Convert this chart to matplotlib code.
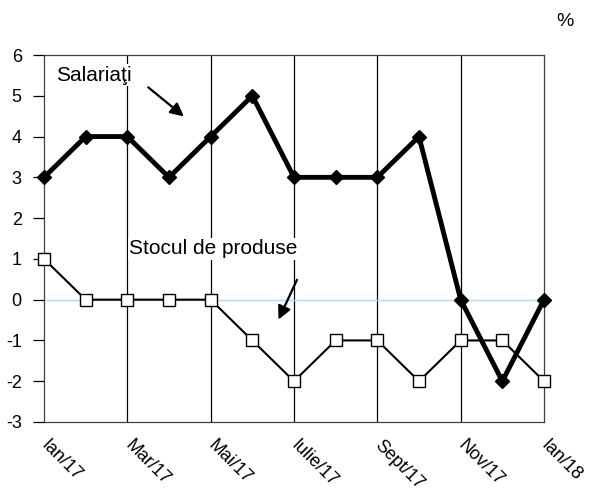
import matplotlib
matplotlib.use("Agg")
import matplotlib.pyplot as plt
import matplotlib.transforms as mtransforms
import numpy as np

months = ["Ian/17", "Feb/17", "Mar/17", "Apr/17", "Mai/17", "Iun/17", "Iulie/17",
          "Aug/17", "Sept/17", "Oct/17", "Nov/17", "Dec/17", "Ian/18"]
salariati = [3, 4, 4, 3, 4, 5, 3, 3, 3, 4, 0, -2, 0]
stocul = [1, 0, 0, 0, 0, -1, -2, -1, -1, -2, -1, -1, -2]

plt.rcParams["font.family"] = ["Liberation Sans", "DejaVu Sans"]
plt.rcParams["axes.unicode_minus"] = False

fig = plt.figure(figsize=(5.9, 4.92), dpi=100)
ax = fig.add_axes([44 / 590, 70 / 492, 500 / 590, 367 / 492])

x = np.arange(len(months))

for xv in x[2:-1:2]:
    ax.axvline(xv, color="black", lw=0.9, zorder=1)
ax.axhline(0, color="#b4d8f4", lw=1.0, zorder=1)

ax.plot(x, salariati, color="black", lw=3.5, marker="D", markersize=7,
        markerfacecolor="black", zorder=3, clip_on=False)
ax.plot(x, stocul, color="black", lw=1.5, marker="s", markersize=9,
        markerfacecolor="white", markeredgecolor="black", markeredgewidth=1.0,
        zorder=3, clip_on=False)

ax.set_xlim(0, 12)
ax.set_ylim(-3, 6)
ax.set_yticks(range(-3, 7))
ax.set_xticks(x[::2])
ax.set_xticklabels(months[::2], rotation=-45, ha="left", va="top",
                   rotation_mode="anchor")
ax.tick_params(axis="y", length=8, width=0.9, labelsize=13, pad=8)
ax.tick_params(axis="x", length=0, labelsize=13, pad=10)
shift = mtransforms.ScaledTranslation(6 / 100, -1 / 100, fig.dpi_scale_trans)
for lab in ax.get_xticklabels():
    lab.set_transform(lab.get_transform() + shift)
for s in ax.spines.values():
    s.set_linewidth(0.9)
    s.set_color("#404040")

ax.text(0.3, 5.5, "Salariaţi", fontsize=15, va="center", ha="left",
        bbox=dict(facecolor="white", edgecolor="none", pad=1), zorder=4)
ax.annotate("", xy=(3.41, 4.45), xytext=(2.45, 5.25),
            arrowprops=dict(arrowstyle="-|>", color="black", lw=1.6,
                            mutation_scale=20), zorder=4)

ax.text(2.05, 1.25, "Stocul de produse", fontsize=15, va="center", ha="left",
        bbox=dict(facecolor="white", edgecolor="none", pad=1), zorder=4)
ax.annotate("", xy=(5.6, -0.55), xytext=(6.1, 0.55),
            arrowprops=dict(arrowstyle="-|>", color="black", lw=1.6,
                            mutation_scale=20), zorder=4)

fig.text(565 / 590, 1 - 22 / 492, "%", fontsize=14, ha="center", va="center")

fig.savefig("out.png", dpi=100)
